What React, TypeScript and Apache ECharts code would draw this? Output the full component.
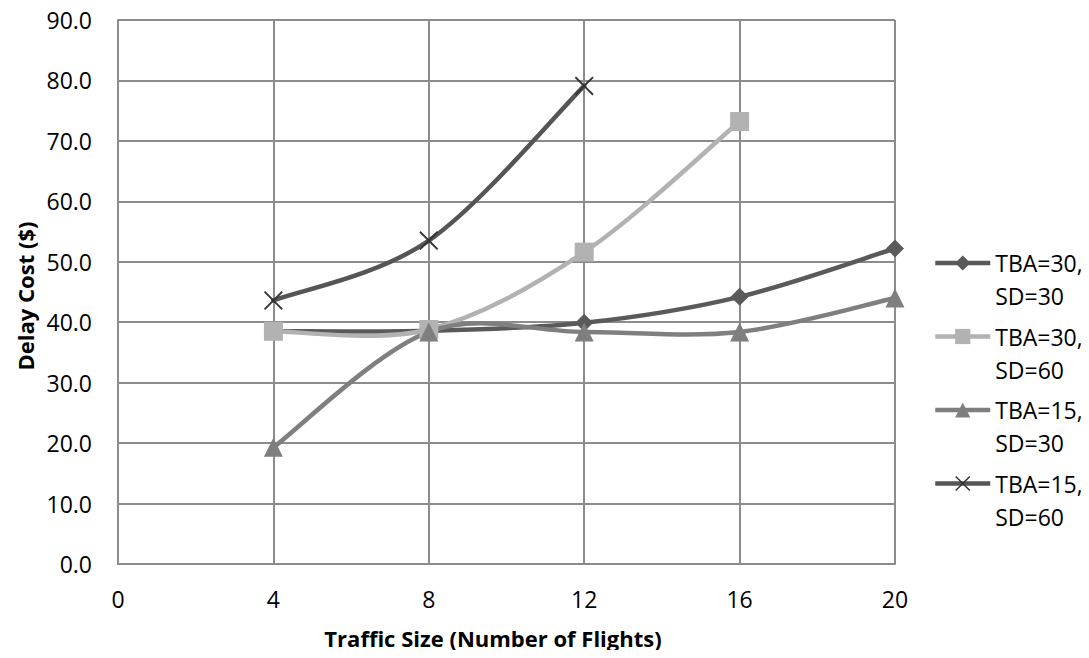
import React, { useEffect, useRef } from "react";
import * as echarts from "echarts";

const xValues = [4, 8, 12, 16, 20];
const seriesNames = ["TBA=30, SD=30", "TBA=30, SD=60", "TBA=15, SD=30", "TBA=15, SD=60"];
const tba30sd30 = [38.5, 38.6, 39.9, 44.2, 52.2];
const tba30sd60 = [38.5, 38.8, 51.6, 73.2, null];
const tba15sd30 = [19.3, 38.4, 38.4, 38.4, 44.0];
const tba15sd60 = [43.6, 53.5, 79.1, null, null];
const xTitle = "Traffic Size (Number of Flights)";
const yTitle = "Delay Cost ($)";

const FONT = "'Open Sans', sans-serif";
const xPath = "path://M0,0.7L0.7,0L5,4.3L9.3,0L10,0.7L5.7,5L10,9.3L9.3,10L5,5.7L0.7,10L0,9.3L4.3,5Z";

function pairs(vals: (number | null)[]) {
  return xValues
    .map((x, i) => (vals[i] == null ? null : [x, vals[i]]))
    .filter((p) => p !== null) as number[][];
}

function smoothPath(pts: number[][]) {
  if (!pts.length) return "";
  let d = `M${pts[0][0]},${pts[0][1]}`;
  const n = pts.length;
  for (let i = 0; i < n - 1; i++) {
    const p0 = pts[Math.max(i - 1, 0)];
    const p1 = pts[i];
    const p2 = pts[i + 1];
    const p3 = pts[Math.min(i + 2, n - 1)];
    const c1x = p1[0] + (p2[0] - p0[0]) / 6;
    const c1y = p1[1] + (p2[1] - p0[1]) / 6;
    const c2x = p2[0] - (p3[0] - p1[0]) / 6;
    const c2y = p2[1] - (p3[1] - p1[1]) / 6;
    d += `C${c1x},${c1y},${c2x},${c2y},${p2[0]},${p2[1]}`;
  }
  return d;
}

export default function App() {
  const ref = useRef<HTMLDivElement>(null);
  useEffect(() => {
    if (!ref.current) return;
    const chart = echarts.init(ref.current, null, { renderer: "svg" });
    const seriesData = [tba30sd30, tba30sd60, tba15sd30, tba15sd60];
    const lineColors = ["#5a5a5a", "#b2b2b2", "#7f7f7f", "#555555"];
    const markColors = ["#5a5a5a", "#b2b2b2", "#7f7f7f", "#333333"];
    const symbols = ["diamond", "rect", "triangle", xPath];
    const sizes = [18, 19, 19, 19];
    const legendCenters = [263, 336.5, 410, 483.5];
    const lineH = 33;
    const LW = 4.5;

    const series: any[] = [];
    seriesNames.forEach((name, i) => {
      const data = pairs(seriesData[i]);
      series.push({
        name: name + " curve",
        type: "custom",
        coordinateSystem: "cartesian2d",
        data,
        encode: { x: 0, y: 1 },
        silent: true,
        renderItem: (params: any, api: any) => {
          if (params.dataIndex !== 0) return null;
          const px = data.map((p) => api.coord(p));
          return {
            type: "path",
            shape: { pathData: smoothPath(px) },
            style: { stroke: lineColors[i], lineWidth: LW, fill: "none", lineJoin: "round", lineCap: "round" },
          };
        },
      });
      series.push({
        name,
        type: "line",
        data,
        symbol: symbols[i],
        symbolSize: sizes[i],
        showAllSymbol: true,
        lineStyle: { color: lineColors[i], width: 0, opacity: 0 },
        itemStyle: { color: markColors[i] },
        emphasis: { disabled: true },
      });
    });

    const option: any = {
      animation: false,
      backgroundColor: "#ffffff",
      grid: { left: 118, right: 194, top: 20, bottom: 94, containLabel: false },
      xAxis: {
        type: "value",
        min: 0,
        max: 20,
        interval: 4,
        axisLine: { show: true, lineStyle: { color: "#8c8c8c", width: 2 } },
        axisTick: { show: false },
        axisLabel: { margin: 23, fontSize: 23, fontFamily: FONT, color: "#000" },
        splitLine: { show: true, lineStyle: { color: "#8c8c8c", width: 2 } },
      },
      yAxis: {
        type: "value",
        min: 0,
        max: 90,
        interval: 10,
        axisLine: { show: true, lineStyle: { color: "#8c8c8c", width: 2 } },
        axisTick: { show: false },
        axisLabel: {
          margin: 26,
          fontSize: 23,
          fontFamily: FONT,
          color: "#000",
          formatter: (v: number) => v.toFixed(1),
        },
        splitLine: { show: true, lineStyle: { color: "#8c8c8c", width: 2 } },
      },
      legend: seriesNames.map((name, i) => ({
        data: [name],
        orient: "vertical",
        left: 933,
        top: legendCenters[i] - (lineH * 3) / 2,
        padding: 0,
        itemWidth: 55,
        itemHeight: 19,
        itemGap: 0,
        lineStyle: { color: lineColors[i], width: LW, opacity: 1 },
        textStyle: { fontSize: 23, fontFamily: FONT, color: "#000", lineHeight: lineH },
        formatter: (n: string) => "\n" + n.replace(", ", ",\n"),
        selectedMode: false,
      })),
      graphic: [
        {
          type: "text",
          x: 493,
          y: 638,
          style: {
            text: xTitle,
            align: "center",
            verticalAlign: "middle",
            font: `bold 22px ${FONT}`,
            fill: "#000",
          },
        },
        {
          type: "text",
          x: 25,
          y: 296,
          rotation: Math.PI / 2,
          style: {
            text: yTitle,
            align: "center",
            verticalAlign: "middle",
            font: `bold 22px ${FONT}`,
            fill: "#000",
          },
        },
      ],
      series,
    };
    chart.setOption(option);
    return () => chart.dispose();
  }, []);
  return <div ref={ref} style={{ width: 1089, height: 658, margin: -8 }} />;
}
